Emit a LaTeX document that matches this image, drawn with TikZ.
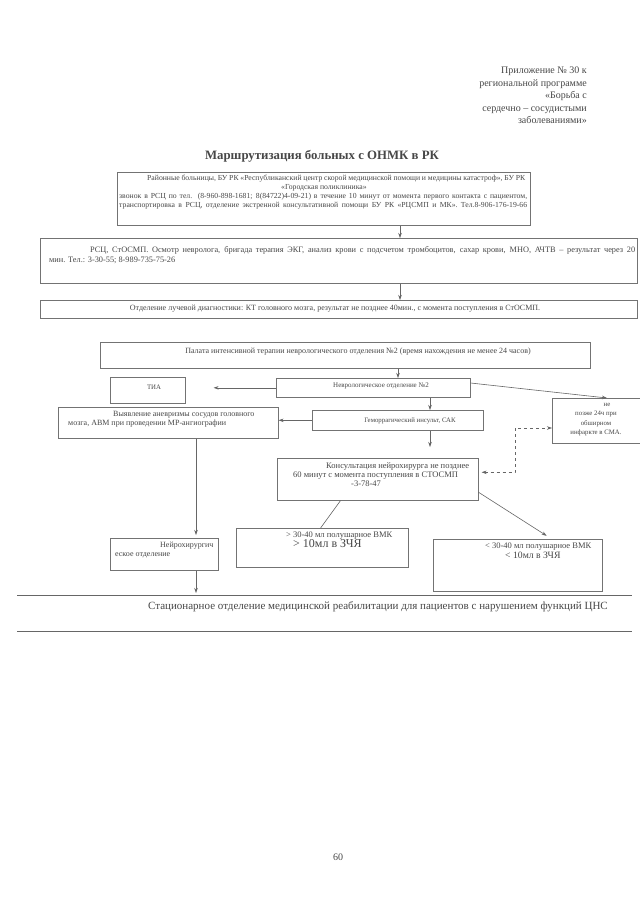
\documentclass[tikz,border=0pt]{standalone}
\usepackage{fontspec}
\setmainfont{Liberation Serif}
\usetikzlibrary{arrows.meta,calc}
\newcommand\spreadline[2]{\makebox[#1][s]{#2}}
\begin{document}
\begin{tikzpicture}[x=1pt,y=-1pt,
  bx/.style={draw=black!55, line width=0.6pt, rectangle, inner sep=0pt, anchor=north west},
  tx/.style={text=black!72, inner sep=0pt, font=\fontsize{8}{9}\selectfont},
  txs/.style={text=black!72, inner sep=0pt, font=\fontsize{6.8}{9}\selectfont},
  arr/.style={draw=black!60, line width=0.6pt, -{Stealth[length=5pt,width=3.5pt]}},
  ln/.style={draw=black!60, line width=0.6pt},
  dsh/.style={draw=black!60, line width=0.6pt, dashed, {Stealth[length=5pt,width=3.5pt]}-{Stealth[length=5pt,width=3.5pt]}}]
\useasboundingbox (0,0) rectangle (640,903);
\fill[white] (0,0) rectangle (640,903);

% header
\node[tx, font=\fontsize{10}{12.5}\selectfont, align=right, anchor=north east] (hdr) at (587,67)
  {Приложение № 30 к\\региональной программе\\«Борьба с\\сердечно – сосудистыми\\заболеваниями»};
\node[tx, font=\bfseries\fontsize{12.8}{15}\selectfont] (title) at (322,156) {Маршрутизация больных с ОНМК в РК};

% helper coordinates
\coordinate (x400) at (400,0);
\coordinate (x398) at (398,0);
\coordinate (x430) at (430,0);
\coordinate (x196) at (196,0);
\coordinate (x607) at (607,0);

% box 1
\node[bx, minimum width=413pt, minimum height=53pt] (b1) at (117,172) {};
\node[tx, font=\fontsize{7.7}{9}\selectfont, anchor=north west, align=left] (t1) at (119,175)
  {\hspace*{28pt}\spreadline{378pt}{Районные больницы, БУ РК «Республиканский центр скорой медицинской помощи и медицины катастроф», БУ РК}\\
   \hspace*{162pt}«Городская поликлиника»\\
   \spreadline{408pt}{звонок в РСЦ по тел. (8-960-898-1681; 8(84722)4-09-21) в течение 10 минут от момента первого контакта с пациентом,}\\
   \spreadline{408pt}{транспортировка в РСЦ, отделение экстренной консультативной помощи БУ РК «РЦСМП и МК». Тел.8-906-176-19-66}};

% box 2
\node[bx, minimum width=597pt, minimum height=45pt] (b2) at (40,238) {};
\node[tx, font=\fontsize{8.3}{10.5}\selectfont, anchor=north west, align=left] (t2) at (49,246)
  {\hspace*{41pt}\spreadline{545pt}{РСЦ, СтОСМП. Осмотр невролога, бригада терапия ЭКГ, анализ крови с подсчетом тромбоцитов, сахар крови, МНО, АЧТВ – результат через 20}\\
   мин. Тел.: 3-30-55; 8-989-735-75-26};

% box 3
\node[bx, minimum width=597pt, minimum height=18pt] (b3) at (40,300) {};
\node[tx] (t3) at (335,309) {Отделение лучевой диагностики: КТ головного мозга, результат не позднее 40мин., с момента поступления в СтОСМП.};

% box 4
\node[bx, minimum width=490pt, minimum height=26pt] (b4) at (100,342) {};
\node[tx] (t4) at (358,352) {Палата интенсивной терапии неврологического отделения №2 (время нахождения не менее 24 часов)};

% neuro box
\node[bx, minimum width=194pt, minimum height=19pt] (b5) at (276,378) {};
\node[txs, font=\fontsize{7}{9}\selectfont] (t5) at (381,386) {Неврологическое отделение №2};

% TIA
\node[bx, minimum width=75pt, minimum height=26pt] (tia) at (110,377) {};
\node[txs] (ttia) at (154,387) {ТИА};

% aneurysm box
\node[bx, minimum width=220pt, minimum height=31pt] (vyy) at (58,407) {};
\node[tx, anchor=north west, align=left] (tvyy) at (68,411)
  {\hspace*{45pt}Выявление аневризмы сосудов головного\\мозга, АВМ при проведении МР-ангиографии};

% hemorrhagic
\node[bx, minimum width=171pt, minimum height=20pt] (hem) at (312,410) {};
\node[txs] (them) at (410,421) {Геморрагический инсульт, САК};

% right box (clipped at page edge)
\node[bx, minimum width=100pt, minimum height=45pt] (rb) at (552,398) {};
\node[txs, font=\fontsize{6.8}{9.3}\selectfont, anchor=north, align=center] (trb) at (596,403)
  {\hspace*{22pt}не\\позже 24ч при\\обширном\\инфаркте в СМА.};

% consultation
\node[bx, minimum width=201pt, minimum height=42pt] (con) at (277,458) {};
\node[tx, font=\fontsize{8.5}{9}\selectfont, anchor=north west, align=left] (tcon) at (293,462)
  {\hspace*{33pt}Консультация нейрохирурга не позднее\\60 минут с момента поступления в СТОСМП\\\hspace*{58pt}-3-78-47};

% big hemorrhage
\node[bx, minimum width=172pt, minimum height=39pt] (big) at (236,528) {};
\node[tx, font=\fontsize{8.5}{9}\selectfont, anchor=north west, align=left] (tbig) at (286,532)
  {> 30-40 мл полушарное ВМК\\[-1pt]\hspace*{7pt}{\fontsize{12}{11}\selectfont > 10мл в ЗЧЯ}};

% small hemorrhage
\node[bx, minimum width=169pt, minimum height=52pt] (sm) at (433,539) {};
\node[tx, font=\fontsize{8.5}{9}\selectfont, anchor=north west, align=left] (tsm) at (485,543)
  {< 30-40 мл полушарное ВМК\\[1pt]\hspace*{20pt}{\fontsize{9.7}{10}\selectfont < 10мл в ЗЧЯ}};

% neurosurgery
\node[bx, minimum width=108pt, minimum height=32pt] (ns) at (110,538) {};
\node[tx, anchor=north west, align=left] (tns) at (115,542)
  {\hspace*{45pt}Нейрохирургич\\еское отделение};

% bottom band
\draw[ln] (17,595) -- (632,595);
\draw[ln] (17,631) -- (632,631);
\coordinate (band) at (196,593);
\node[tx, font=\fontsize{11}{13}\selectfont] (tband) at (378,607) {Стационарное отделение медицинской реабилитации для пациентов с нарушением функций ЦНС};

% page number
\node[tx, font=\fontsize{10}{12}\selectfont] (pg) at (338,857) {60};

% connectors
\draw[arr] (b1.south -| x400) -- (b2.north -| x400);
\draw[arr] (b2.south -| x400) -- (b3.north -| x400);
\draw[arr] (b4.south -| x398) -- (b5.north -| x398);
\draw[arr, shorten >=28pt] (b5.west) -- (tia.east |- b5.west);
\draw[arr] (b5.south -| x430) -- (hem.north -| x430);
\draw[arr] ([yshift=-5pt]b5.north east) -- (rb.north -| x607);
\draw[arr] (hem.west) -- (vyy.east |- hem.west);
\draw[arr, shorten >=11pt] (hem.south -| x430) -- (con.north -| x430);
\coordinate (d1) at (515,428);
\draw[dsh] ([xshift=3pt,yshift=7pt]con.east) -| (d1) -- (d1 -| rb.west);
\draw[ln] ($(con.south west)!0.315!(con.south east)$) -- ($(big.north west)!0.49!(big.north east)$);
\draw[arr, shorten >=6pt] ([yshift=-13pt]con.east) -- ($(sm.north west)!0.7!(sm.north east)$);
\draw[arr, shorten >=3pt] (vyy.south -| x196) -- (ns.north -| x196);
\draw[arr] (ns.south -| x196) -- (band);
\end{tikzpicture}
\end{document}
